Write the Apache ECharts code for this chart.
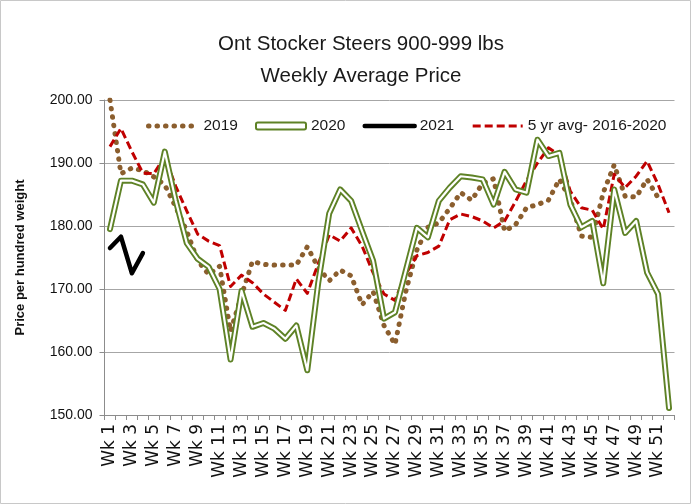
<!DOCTYPE html>
<html>
<head>
<meta charset="utf-8">
<script src="https://cdn.jsdelivr.net/npm/echarts@6/dist/echarts.min.js"></script>
<style>html,body{margin:0;padding:0;background:#fff;}#c{width:694px;height:504px;}</style>
</head>
<body>
<div id="c"></div>
<script>
const weeks = Array.from({length: 52}, (_, i) => 'Wk ' + (i + 1));
const yTicks = [150, 160, 170, 180, 190, 200];
const y2019 = [200.0, 188.3, 189.2, 188.8, 187.8, 186.5, 183.0, 179.2, 174.5, 172.3, 173.6, 163.3, 169.0, 174.4, 173.9, 173.8, 173.8, 173.8, 176.7, 173.4, 171.3, 173.0, 172.1, 167.5, 169.6, 164.2, 161.2, 169.7, 176.2, 179.8, 180.5, 182.8, 185.3, 184.1, 186.8, 187.5, 179.2, 180.2, 182.9, 183.4, 184.1, 187.4, 184.2, 178.4, 178.2, 185.3, 189.7, 184.7, 184.6, 187.4, 184.5, null];
const y2020 = [179.5, 187.2, 187.2, 186.6, 183.7, 191.8, 184.0, 177.3, 174.8, 173.5, 170.0, 158.8, 169.7, 164.0, 164.6, 163.7, 162.1, 164.2, 157.1, 171.0, 182.0, 185.8, 184.0, 179.2, 174.5, 165.3, 166.3, 173.0, 179.7, 178.2, 184.0, 186.1, 187.9, 187.7, 187.4, 183.4, 188.6, 185.8, 185.3, 193.7, 191.1, 191.6, 183.4, 179.8, 180.8, 170.9, 185.8, 178.9, 180.8, 172.6, 169.2, 151.1];
const y2021 = [176.5, 178.3, 172.5, 175.7];
const yAvg = [192.6, 195.5, 191.8, 188.4, 188.3, 191.0, 186.3, 182.4, 178.7, 177.6, 176.9, 170.4, 172.2, 171.0, 169.2, 167.9, 166.6, 171.6, 169.3, 174.0, 178.6, 177.6, 179.7, 176.8, 172.6, 169.2, 168.2, 172.4, 175.3, 175.8, 176.8, 181.0, 181.9, 181.5, 180.8, 179.7, 180.8, 183.9, 187.2, 190.0, 192.4, 191.3, 185.5, 182.9, 182.5, 179.5, 188.2, 186.1, 187.9, 190.3, 186.6, 182.1];
const names = ['2019', '2020', '2021', '5 yr avg- 2016-2020'];

const GREEN = '#5e8226', BROWN = '#8b5e2e', RED = '#c00000';

const chart = echarts.init(document.getElementById('c'), null, {renderer: 'canvas'});
chart.setOption({
  animation: false,
  backgroundColor: '#fff',
  graphic: [
    {type: 'rect', shape: {x: 0.5, y: 0.5, width: 690, height: 503}, style: {fill: 'none', stroke: '#c8c8c8', lineWidth: 1}, silent: true, z: -10},
    {type: 'text', x: 361, y: 44, style: {text: 'Ont Stocker Steers 900-999 lbs', fontSize: 20.5, fontFamily: 'Liberation Sans', fill: '#1a1a1a', align: 'center', verticalAlign: 'middle'}},
    {type: 'text', x: 361, y: 76, style: {text: 'Weekly Average Price', fontSize: 20.5, fontFamily: 'Liberation Sans', fill: '#1a1a1a', align: 'center', verticalAlign: 'middle'}}
  ],
  grid: {left: 104.5, right: 19.5, top: 100, bottom: 89, containLabel: false, outerBoundsMode: 'none'},
  legend: {
    left: 141, top: 113, itemWidth: 50, itemHeight: 7, itemGap: 17,
    textStyle: {fontSize: 15.5, fontFamily: 'Liberation Sans', color: '#1a1a1a'},
    lineStyle: {width: 'inherit', type: 'inherit', cap: 'inherit', join: 'inherit'},
    data: [
      {name: names[0], itemStyle: {opacity: 0}},
      {name: names[1], icon: 'roundRect', itemStyle: {color: '#fff', borderColor: GREEN, borderWidth: 2}},
      {name: names[2], itemStyle: {opacity: 0}},
      {name: names[3], itemStyle: {opacity: 0}}
    ]
  },
  xAxis: {
    type: 'category', data: weeks, boundaryGap: true,
    axisLine: {lineStyle: {color: '#8c8c8c'}},
    axisTick: {show: true, interval: 0, length: 5, lineStyle: {color: '#8c8c8c'}},
    axisLabel: {interval: 1, rotate: 90, margin: 9, fontSize: 17, fontFamily: 'DejaVu Sans', color: '#111'},
    splitLine: {show: false}
  },
  yAxis: {
    type: 'value', min: yTicks[0], max: yTicks[yTicks.length - 1], interval: 10,
    name: 'Price per hundred weight', nameLocation: 'middle', nameGap: 78, nameRotate: 90,
    nameTextStyle: {fontSize: 13, fontWeight: 'bold', fontFamily: 'Liberation Sans', color: '#111'},
    axisLine: {show: true, lineStyle: {color: '#8c8c8c'}},
    axisTick: {show: true, length: 5, lineStyle: {color: '#8c8c8c'}},
    axisLabel: {margin: 12, fontSize: 14, fontFamily: 'Liberation Sans', color: '#111', formatter: v => v.toFixed(2)},
    splitLine: {lineStyle: {color: '#a6a6a6', width: 1}}
  },
  series: [
    {name: names[0], type: 'line', data: y2019, symbol: 'none', z: 2,
     lineStyle: {color: BROWN, width: 5, type: [0.5, 8], cap: 'round', join: 'round'}, itemStyle: {color: BROWN}},
    {name: names[3], type: 'line', data: yAvg, symbol: 'none', z: 3,
     lineStyle: {color: RED, width: 3, type: [8, 4], join: 'round'}, itemStyle: {color: RED}},
    {name: names[1], type: 'line', data: y2020, symbol: 'none', z: 4,
     lineStyle: {color: GREEN, width: 6, join: 'round', cap: 'round'}, itemStyle: {color: GREEN}},
    {name: '2020 inner', type: 'line', data: y2020, symbol: 'none', z: 5, silent: true,
     lineStyle: {color: '#ffffff', width: 2.2, join: 'round', cap: 'round'}, itemStyle: {color: '#fff'}},
    {name: names[2], type: 'line', data: y2021, symbol: 'none', z: 6,
     lineStyle: {color: '#000', width: 4.5, join: 'round', cap: 'round'}, itemStyle: {color: '#000'}}
  ]
});
</script>
</body>
</html>
